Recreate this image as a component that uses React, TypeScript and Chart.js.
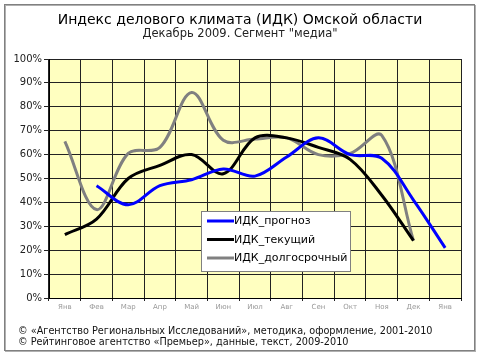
import React, { useEffect, useRef } from 'react';
import { Chart, registerables } from 'chart.js';
Chart.register(...registerables);

const TITLE = 'Индекс делового климата (ИДК) Омской области';
const SUBTITLE = 'Декабрь 2009. Сегмент "медиа"';
const FOOTER = [
  '© «Агентство Региональных Исследований», методика, оформление, 2001-2010',
  '© Рейтинговое агентство «Премьер», данные, текст, 2009-2010',
];
const months = ['Янв', 'Фев', 'Мар', 'Апр', 'Май', 'Июн', 'Июл', 'Авг', 'Сен', 'Окт', 'Ноя', 'Дек', 'Янв'];
const seriesNames = ['ИДК_прогноз', 'ИДК_текущий', 'ИДК_долгосрочный'];
const forecast = [null, 47, 39, 47, 49.5, 54, 51, 59, 67, 60, 58.5, 41, 21];
const current = [26.5, 33, 50, 55.5, 60, 52, 67, 67, 63, 58, 43, 24, null];
const longterm = [65.5, 37, 60.5, 63, 86, 66, 66.5, 67, 60, 60.5, 68, 24, null];
const colors = ['#0000FF', '#000000', '#808080'];

const FONT = '"DejaVu Sans", Verdana, sans-serif';

const decor = {
  id: 'decor',
  beforeDraw(chart: any) {
    const { ctx, chartArea: a } = chart;
    ctx.save();
    ctx.fillStyle = '#FFFFFF';
    ctx.fillRect(0, 0, chart.width, chart.height);
    ctx.fillStyle = '#FFFFC0';
    ctx.fillRect(a.left, a.top, a.right - a.left, a.bottom - a.top);
    // outer frame
    ctx.strokeStyle = '#B0B0B0';
    ctx.lineWidth = 1;
    ctx.strokeRect(5.5, 5.5, 470, 346);
    ctx.strokeStyle = '#808080';
    ctx.strokeRect(4.5, 4.5, 470, 346);
    // titles
    ctx.fillStyle = '#000';
    ctx.textAlign = 'center';
    ctx.textBaseline = 'middle';
    ctx.font = `14px ${FONT}`;
    ctx.fillText(TITLE, 240, 20);
    ctx.fillStyle = '#222';
    ctx.font = `11.5px ${FONT}`;
    ctx.fillText(SUBTITLE, 240, 34);
    // footer
    ctx.textAlign = 'left';
    ctx.fillStyle = '#111';
    ctx.font = `9.7px ${FONT}`;
    ctx.fillText(FOOTER[0], 18, 331);
    ctx.fillText(FOOTER[1], 18, 342);
    ctx.restore();
  },
  afterDatasetsDraw(chart: any) {
    const { ctx } = chart;
    ctx.save();
    ctx.fillStyle = '#FFFFFF';
    ctx.fillRect(201, 211, 149, 60);
    ctx.strokeStyle = '#808080';
    ctx.lineWidth = 1;
    ctx.strokeRect(201.5, 211.5, 149, 60);
    const rows = [221, 239.5, 258];
    ctx.font = `11px ${FONT}`;
    ctx.textAlign = 'left';
    ctx.textBaseline = 'middle';
    seriesNames.forEach((n, i) => {
      ctx.strokeStyle = colors[i];
      ctx.lineWidth = 3;
      ctx.beginPath();
      ctx.moveTo(207, rows[i]);
      ctx.lineTo(234, rows[i]);
      ctx.stroke();
      ctx.fillStyle = '#000';
      ctx.fillText(n, 234, rows[i] + 0.5);
    });
    ctx.restore();
  },
};

export default function App() {
  const ref = useRef<HTMLCanvasElement>(null);
  useEffect(() => {
    const chart = new Chart(ref.current!, {
      type: 'line',
      data: {
        labels: months,
        datasets: [forecast, current, longterm].map((d, i) => ({
          label: seriesNames[i],
          data: d,
          borderColor: colors[i],
          backgroundColor: colors[i],
          borderWidth: 3,
          pointRadius: 0,
          tension: 0.35,
          fill: false,
        })),
      },
      options: {
        responsive: false,
        animation: false,
        layout: { padding: { top: 59, right: 19, left: 0, bottom: 0 } },
        plugins: { legend: { display: false }, tooltip: { enabled: false }, title: { display: false } },
        scales: {
          x: {
            offset: true,
            grid: { offset: true, color: '#222', lineWidth: 1, tickLength: 3, drawTicks: true },
            border: { color: '#000' },
            ticks: { color: '#999', font: { family: FONT, size: 7 }, padding: 2, autoSkip: false, maxRotation: 0 },
            afterFit(s: any) { s.height = 57; },
          },
          y: {
            min: 0,
            max: 100,
            grid: { color: '#222', lineWidth: 1, tickLength: 5 },
            border: { color: '#000' },
            ticks: { stepSize: 10, color: '#222', font: { family: FONT, size: 10 }, padding: 2, callback: (v: any) => v + '%' },
            afterFit(s: any) { s.width = 49; },
          },
        },
      },
      plugins: [decor],
    });
    return () => chart.destroy();
  }, []);
  return (
    <div style={{ position: 'absolute', left: 0, top: 0, width: 480, height: 355 }}>
      <canvas ref={ref} width={480} height={355} style={{ display: 'block' }} />
    </div>
  );
}
